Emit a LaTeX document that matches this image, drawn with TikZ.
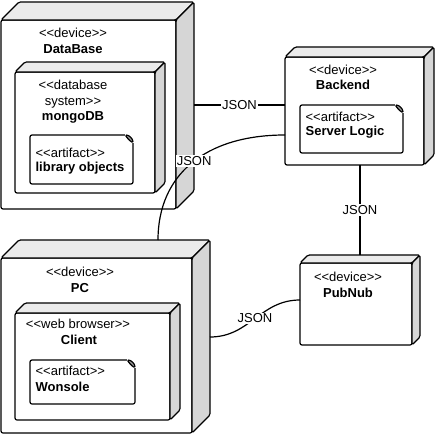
\documentclass[tikz,border=0pt]{standalone}
\usepackage{fontspec}
\setmainfont{Liberation Sans}
\usetikzlibrary{calc}
\usetikzlibrary{positioning}

\definecolor{topgray}{gray}{0.92}
\definecolor{sidegray}{gray}{0.84}
\definecolor{foldgray}{gray}{0.6}

\newcommand{\stt}[1]{<\kern0pt<#1>\kern0pt>}
\newcommand{\devcube}[2]{%
  \draw[face, fill=topgray] (#1.north west) -- ++(#2,-#2) -- ($(#1.north east)+(#2,-#2)$) -- (#1.north east) -- cycle;
  \draw[face, fill=sidegray] (#1.north east) -- ++(#2,-#2) -- ($(#1.south east)+(#2,-#2)$) -- (#1.south east) -- cycle;
}
\newcommand{\artfold}[1]{%
  \fill[white] ($(#1.north east)+(-8,-1)$) rectangle ($(#1.north east)+(1,8)$);
  \draw[face, fill=foldgray] ($(#1.north east)+(-8,0)$) .. controls +(4,0) and +(0,-4) .. ($(#1.north east)+(0,8)$) -- ($(#1.north east)+(-4,5)$) -- cycle;
}

\begin{document}
\begin{tikzpicture}[x=1pt, y=-1pt, line width=1.2pt, line join=round,
    box/.style={draw, rounded corners=2pt, fill=white, outer sep=0pt, inner sep=0pt, anchor=north west},
    face/.style={rounded corners=1.5pt},
    stereo/.style={inner sep=0pt, font=\fontsize{13}{15.5}\selectfont, align=center},
    dname/.style={inner sep=0pt, font=\fontsize{13}{15.5}\selectfont\bfseries},
    lbl/.style={fill=white, inner sep=1pt, font=\fontsize{13}{15}\selectfont}]
    \useasboundingbox (0,0) rectangle (435,435);

    % DataBase device
    \node[box, minimum width=175pt, minimum height=189pt] (db) at (1,20) {};
    \devcube{db}{18}
    \node[stereo] (dbst) at (73,33) {\stt{device}};
    \node[dname] (dbname) at (73,49) {DataBase};
    \node[box, minimum width=140pt, minimum height=121pt] (mongo) at (15,72) {};
    \devcube{mongo}{10}
    \node[stereo] (mongost) at (73,94) {<\kern0pt<database\\system>\kern0pt>};
    \node[dname] (mongoname) at (73,117) {mongoDB};
    \node[box, minimum width=103pt, minimum height=49pt] (libobj) at (30,135) {};
    \artfold{libobj}
    \node[stereo, anchor=west] (libst) at (35,153) {\stt{artifact}};
    \node[dname, anchor=west] (libname) at (35,168) {library objects};

    % Backend device
    \node[box, minimum width=139pt, minimum height=108pt] (be) at (285,57) {};
    \devcube{be}{10}
    \node[stereo] (best) at (343,70) {\stt{device}};
    \node[dname] (bename) at (343,85) {Backend};
    \node[box, minimum width=103pt, minimum height=48pt] (logic) at (300,105) {};
    \artfold{logic}
    \node[stereo, anchor=west] (logicst) at (305,117) {\stt{artifact}};
    \node[dname, anchor=west] (logicname) at (305,132) {Server Logic};

    % PC device
    \node[box, minimum width=191pt, minimum height=175pt] (pc) at (1,258) {};
    \devcube{pc}{18}
    \node[stereo] (pcst) at (80,272) {\stt{device}};
    \node[dname] (pcname) at (80,288) {PC};
    \node[box, minimum width=155pt, minimum height=107pt] (client) at (15,313) {};
    \devcube{client}{10}
    \node[stereo] (clientst) at (78,324) {\stt{web browser}};
    \node[dname] (clientname) at (79,340) {Client};
    \node[box, minimum width=105pt, minimum height=44pt] (wons) at (30,360) {};
    \artfold{wons}
    \node[stereo, anchor=west] (wonsst) at (35,371) {\stt{artifact}};
    \node[dname, anchor=west] (wonsname) at (35,387) {Wonsole};

    % PubNub device
    \node[box, minimum width=112pt, minimum height=82pt] (pn) at (300,263) {};
    \devcube{pn}{8}
    \node[stereo] (pnst) at (348,277) {\stt{device}};
    \node[dname] (pnname) at (348,293) {PubNub};

    % connections
    \coordinate (dbR) at ($(db.north east)+(18,85)$);
    \coordinate (beL) at ($(be.west)+(0,24)$);
    \coordinate (pcT) at ($(pc.north west)+(157,-18)$);
    \coordinate (pcR) at ($(pc.north east)+(18,79)$);
    \coordinate (pnT) at ($(pn.north west)+(60,-8)$);
    \coordinate (pnL) at ($(pn.west)+(0,-4)$);
    \draw (dbR) -- (dbR -| be.west) node[lbl, midway] {JSON};
    \draw (beL) .. controls +(-80,0) and +(0,-65) .. (pcT) node[lbl, pos=0.48] {JSON};
    \draw (pnT |- be.south) -- (pnT) node[lbl, midway] {JSON};
    \draw (pcR) .. controls +(40,0) and +(-40,0) .. (pnL) node[lbl, midway] {JSON};
\end{tikzpicture}
\end{document}
